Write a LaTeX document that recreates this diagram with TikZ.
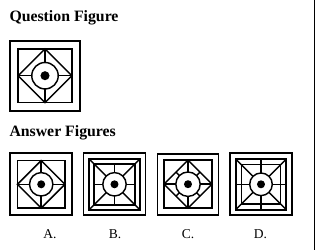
\documentclass[tikz,border=0pt]{standalone}
\usepackage{fontspec}
\setmainfont{Liberation Serif}
\tikzset{
  figline/.style={line width=1.45pt},
  outerline/.style={line width=1.7pt},
  frameline/.style={line width=2pt},
  titletext/.style={inner sep=0pt, anchor=base west, font=\fontsize{15.8}{18}\selectfont\bfseries},
  labeltext/.style={inner sep=0pt, anchor=base, font=\fontsize{13.5}{15}\selectfont},
  qfig/.pic={
    \draw[outerline] (-31,-31) rectangle (31,31);
    \draw[figline] (-23.75,-23.75) rectangle (23.75,23.75);
    \draw[figline] (0,-23.75) -- (23.75,0) -- (0,23.75) -- (-23.75,0) -- cycle;
    \draw[figline] (0,0) circle[radius=11.7];
    \fill (0,0) circle[radius=4];
    \draw[figline] (0,-11.7) -- (0,-23.75) (0,11.7) -- (0,23.75)
      (-11.7,0) -- (-23.75,0) (11.7,0) -- (23.75,0);
  },
  cfig/.pic={
    \draw[outerline] (-30.5,-30.5) rectangle (30.5,30.5);
    \draw[figline] (-24,-24) rectangle (24,24);
    \draw[figline] (0,-24) -- (24,0) -- (0,24) -- (-24,0) -- cycle;
    \draw[figline] (0,0) circle[radius=12.2];
    \fill (0,0) circle[radius=4];
    \draw[figline] (0,-12.2) -- (0,-24) (0,12.2) -- (0,24)
      (-12.2,0) -- (-24,0) (12.2,0) -- (24,0);
    \draw[figline] (8.6,8.6) -- (12,12) (-8.6,8.6) -- (-12,12)
      (8.6,-8.6) -- (12,-12) (-8.6,-8.6) -- (-12,-12);
  },
  bfig/.pic={
    \draw[outerline] (-31,-31) rectangle (31,31);
    \draw[frameline] (-25.3,-25.3) rectangle (25.3,25.3);
    \draw[figline] (-20.5,-20.5) rectangle (20.5,20.5);
    \draw[figline] (0,0) circle[radius=11.7];
    \fill (0,0) circle[radius=4];
    \draw[figline] (-25.3,-25.3) -- (-8.27,-8.27) (25.3,-25.3) -- (8.27,-8.27)
      (-25.3,25.3) -- (-8.27,8.27) (25.3,25.3) -- (8.27,8.27);
    \draw[figline] (0,-20.5) -- (0,-11.7) (0,20.5) -- (0,11.7)
      (-20.5,0) -- (-11.7,0) (20.5,0) -- (11.7,0);
  },
  dfig/.pic={
    \draw[outerline] (-31,-31) rectangle (31,31);
    \draw[frameline] (-25.3,-25.3) rectangle (25.3,25.3);
    \draw[figline] (-19.7,-19.7) rectangle (19.7,19.7);
    \draw[figline] (0,0) circle[radius=11.3];
    \fill (0,0) circle[radius=4];
    \draw[figline] (-25.3,-25.3) -- (-8,-8) (25.3,-25.3) -- (8,-8)
      (-25.3,25.3) -- (-8,8) (25.3,25.3) -- (8,8);
    \draw[figline] (0,-25.3) -- (0,-11.3) (0,25.3) -- (0,11.3)
      (-25.3,0) -- (-11.3,0) (25.3,0) -- (11.3,0);
  }
}
\begin{document}
\begin{tikzpicture}[x=1pt,y=-1pt]
\useasboundingbox (0,0) rectangle (317,250);
\node[titletext] (qtitle) at (9.3,21) {Question Figure};
\node[titletext] (atitle) at (9.3,136) {Answer Figures};
\pic[scale=1.13] at (45,75.7) {qfig};
\pic at (41.2,184.3) {qfig};
\pic at (114.5,184.3) {bfig};
\pic at (188,184.2) {cfig};
\pic at (261,184.3) {dfig};
\node[labeltext] (la) at (50,238.3) {A.};
\node[labeltext] (lb) at (115,238.3) {B.};
\node[labeltext] (lc) at (188,238.3) {C.};
\node[labeltext] (ld) at (260.5,238.3) {D.};
\coordinate (rtop) at (314.5,0);
\coordinate (rbot) at (314.5,250);
\draw[line width=1.3pt] (rtop) -- (rbot);
\end{tikzpicture}
\end{document}
